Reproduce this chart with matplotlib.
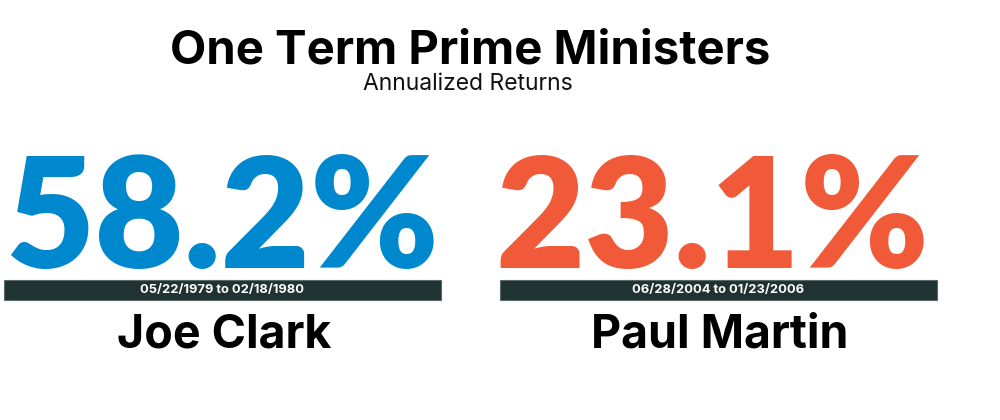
import matplotlib
matplotlib.use("Agg")
import matplotlib.pyplot as plt

# ---- data ----
names = ["Joe Clark", "Paul Martin"]
returns = [58.2, 23.1]
start_dates = ["05/22/1979", "06/28/2004"]
end_dates = ["02/18/1980", "01/23/2006"]
title = "One Term Prime Ministers"
subtitle = "Annualized Returns"

# ---- style ----
colors = ["#0088cf", "#f05a38"]
bar_color = "#213232"
centers = [222, 718]
num_centers = [222, 712]
bar_width = 437
FONT = "Inter"
NUM_FONT = "Lato"

fig = plt.figure(figsize=(10, 4.2), dpi=100)
ax = fig.add_axes([0, 0, 1, 1])
ax.set_xlim(0, 1000)
ax.set_ylim(420, 0)
ax.axis("off")

ax.text(470, 63, title, ha="center", va="baseline", fontsize=34,
        fontweight="bold", family=FONT, color="black")
ax.text(468, 90, subtitle, ha="center", va="baseline", fontsize=16.5,
        family=FONT, color="#111111")

for i, (n, r, s, e) in enumerate(zip(names, returns, start_dates, end_dates)):
    cx = centers[i]
    ax.text(num_centers[i], 268, f"{r:.1f}%", ha="center", va="baseline",
            fontsize=111, fontweight="heavy", family=NUM_FONT, color=colors[i])
    ax.barh(290, bar_width, height=20, left=cx - bar_width / 2,
            color=bar_color, edgecolor="#5a6a6a", linewidth=0.8, zorder=3)
    ax.text(cx, 290.5, f"{s} to {e}", ha="center", va="center", fontsize=9.3,
            fontweight="bold", family=FONT, color="white", zorder=4)
    ax.text(cx + 2, 348, n, ha="center", va="baseline", fontsize=33.5,
            fontweight="bold", family=FONT, color="black")

fig.savefig("out.png", dpi=100)
